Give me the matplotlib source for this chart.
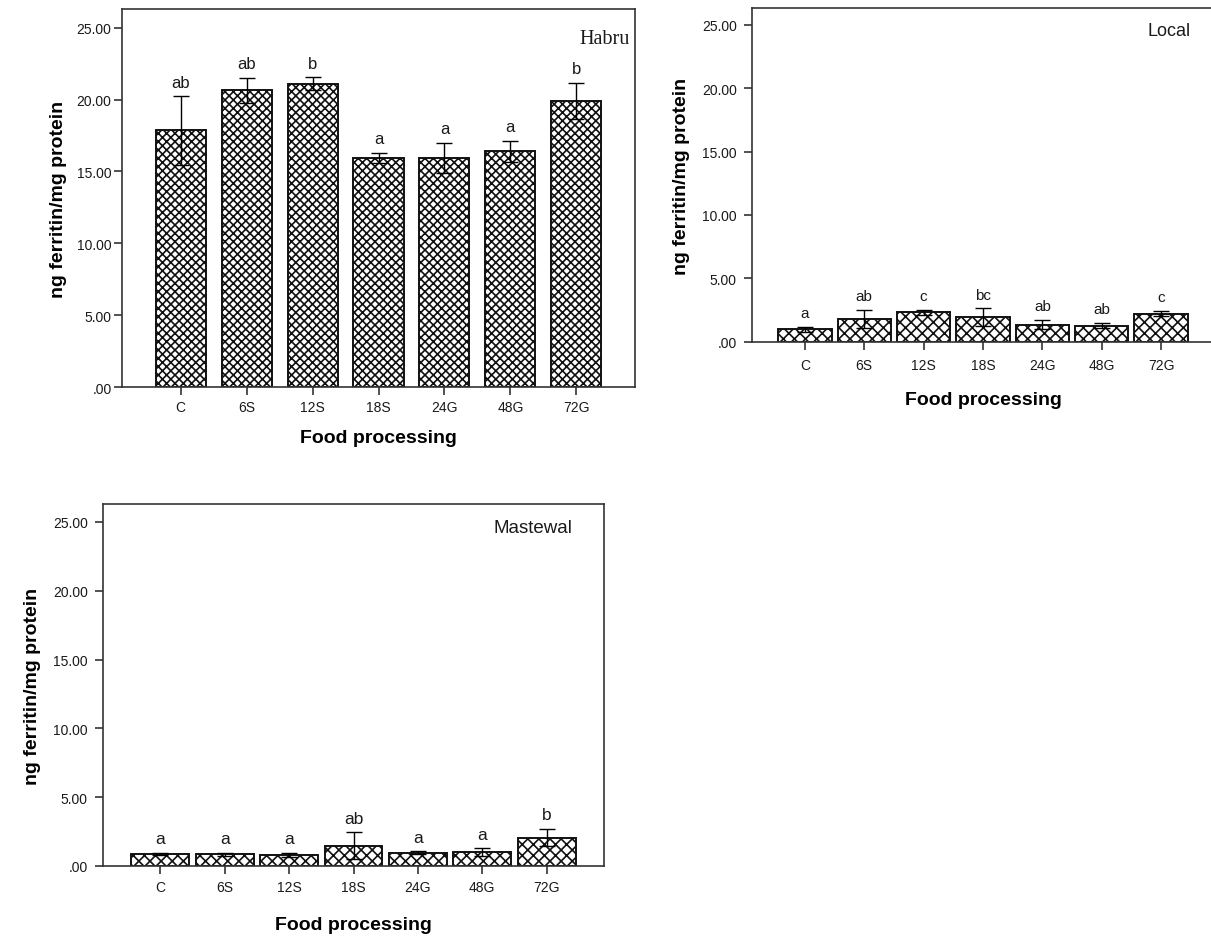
import matplotlib
matplotlib.use('Agg')
import matplotlib.pyplot as plt
import numpy as np

plt.rcParams['font.family'] = ['Liberation Sans', 'DejaVu Sans']
plt.rcParams['hatch.linewidth'] = 1.2
plt.rcParams['hatch.color'] = 'black'

# datos
categorias = ['C', '6S', '12S', '18S', '24G', '48G', '72G']

habru_media = [17.85, 20.63, 21.10, 15.95, 15.95, 16.41, 19.90]
habru_error = [2.38, 0.90, 0.45, 0.36, 1.05, 0.74, 1.28]
habru_letras = ['ab', 'ab', 'b', 'a', 'a', 'a', 'b']

local_media = [0.98, 1.80, 2.33, 1.94, 1.35, 1.27, 2.22]
local_error = [0.20, 0.69, 0.19, 0.70, 0.36, 0.19, 0.19]
local_letras = ['a', 'ab', 'c', 'bc', 'ab', 'ab', 'c']

mastewal_media = [0.89, 0.85, 0.80, 1.48, 0.97, 1.02, 2.06]
mastewal_error = [0.07, 0.10, 0.15, 0.97, 0.10, 0.27, 0.63]
mastewal_letras = ['a', 'a', 'a', 'ab', 'a', 'a', 'b']

y_ticks = [0, 5, 10, 15, 20, 25]
y_etiquetas = ['.00', '5.00', '10.00', '15.00', '20.00', '25.00']

W, H = 1211, 945


def crear_ejes(fig, izq, der, arriba, abajo):
    return fig.add_axes([izq / W, 1 - abajo / H, (der - izq) / W, (abajo - arriba) / H])


def dibujar(ax, medias, errores, letras, nombre, ancho, trama, tam_letra,
            fuente_nombre, tam_nombre, pos_nombre, pad_y, pad_tx, pad_x, pad_lab_y):
    x = np.arange(len(categorias))
    ax.bar(x, medias, width=ancho, color='white', edgecolor='#111111',
           linewidth=1.4, hatch=trama, zorder=2)
    ax.errorbar(x, medias, yerr=errores, fmt='none', ecolor='black',
                elinewidth=1.0, capsize=5.8, capthick=1.0, zorder=3)
    for xi, m, e, l in zip(x, medias, errores, letras):
        ax.annotate(l, xy=(xi, m + e), xytext=(0, 7), textcoords='offset points',
                    ha='center', va='baseline', fontsize=tam_letra, color='#1a1a1a')
    ax.set_xlim(-0.89, len(categorias) - 1 + 0.89)
    ax.set_ylim(0, 26.3)
    ax.set_xticks(x)
    ax.set_xticklabels(categorias)
    ax.set_yticks(y_ticks)
    ax.set_yticklabels(y_etiquetas)
    for s in ax.spines.values():
        s.set_color('#333333')
        s.set_linewidth(1.2)
    ax.tick_params(axis='both', direction='out', length=6, width=1.2,
                   colors='#333333', labelcolor='#1a1a1a', labelsize=10)
    ax.tick_params(axis='y', pad=pad_y)
    ax.tick_params(axis='x', pad=pad_tx)
    ax.set_xlabel('Food processing', fontsize=14, fontweight='bold', labelpad=pad_x)
    ax.set_ylabel('ng ferritin/mg protein', fontsize=14, fontweight='bold', labelpad=pad_lab_y)
    ax.text(pos_nombre[0], pos_nombre[1], nombre, transform=ax.transAxes,
            ha='center', va='center', fontsize=tam_nombre, family=fuente_nombre,
            color='#1a1a1a')


fig = plt.figure(figsize=(W / 100, H / 100), dpi=100)

ax1 = crear_ejes(fig, 122, 635, 10, 388)
dibujar(ax1, habru_media, habru_error, habru_letras, 'Habru', 0.76, 'xxxx', 12,
        ['Liberation Serif', 'DejaVu Serif'], 14.5, (0.94, 0.923), 1.5, 3, 11, 7)

ax2 = crear_ejes(fig, 752, 1214, 9.3, 342.7)
dibujar(ax2, local_media, local_error, local_letras, 'Local', 0.9, 'xxx', 11,
        ['Liberation Sans', 'DejaVu Sans'], 13, (0.9026, 0.933), 5, 5.5, 14, 8.5)

ax3 = crear_ejes(fig, 103, 604, 505, 867)
dibujar(ax3, mastewal_media, mastewal_error, mastewal_letras, 'Mastewal', 0.9, 'xxx', 12.5,
        ['Liberation Sans', 'DejaVu Sans'], 13.5, (0.858, 0.936), 5, 4, 16, 8.5)

fig.savefig('out.png', dpi=100)
